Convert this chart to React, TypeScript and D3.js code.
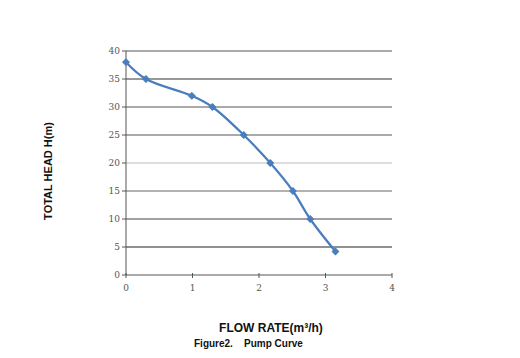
import React from "react";
import * as d3 from "d3";

const flow = [0, 0.3, 0.99, 1.3, 1.77, 2.17, 2.51, 2.77, 3.15];
const head = [38, 35, 32, 30, 25, 20, 15, 10, 4.2];
const xTicks = [0, 1, 2, 3, 4];
const yTicks = [0, 5, 10, 15, 20, 25, 30, 35, 40];
const gridColors: Record<number, string> = {
  5: "#222", 10: "#444", 15: "#666", 20: "#bbb", 25: "#555", 30: "#555", 35: "#333", 40: "#555",
};

export default function App() {
  const W = 520, H = 358;
  const x = d3.scaleLinear().domain([0, 4]).range([126, 392]);
  const y = d3.scaleLinear().domain([0, 40]).range([275, 51]);
  const pts = flow.map((f, i) => [x(f), y(head[i])] as [number, number]);
  const line = d3.line().curve(d3.curveCatmullRom.alpha(0.5))(pts) || "";
  const serif = "'DejaVu Serif', 'Liberation Serif', serif";
  const sans = "'Liberation Sans', Arial, sans-serif";
  const marker = d3.symbol(d3.symbolSquare, 22)() || "";
  return (
    <svg width={W} height={H} style={{ position: "absolute", left: 0, top: 0, background: "#fff" }}>
      <rect width={W} height={H} fill="#fff" />
      {yTicks.filter(t => t > 0).map(t => (
        <line key={t} x1={x(0)} x2={x(4)} y1={y(t)} y2={y(t)} stroke={gridColors[t]} strokeWidth={1} />
      ))}
      {yTicks.map(t => (
        <g key={"y" + t}>
          <line x1={x(0) - 4} x2={x(0)} y1={y(t)} y2={y(t)} stroke="#555" />
          <text x={x(0) - 6} y={y(t) + 3} fontSize={9} fontFamily={serif} fill="#555" textAnchor="end">{t}</text>
        </g>
      ))}
      <line x1={x(0)} x2={x(0)} y1={y(40)} y2={y(0)} stroke="#555" />
      <line x1={x(0)} x2={x(4)} y1={y(0)} y2={y(0)} stroke="#555" />
      {xTicks.map(t => (
        <g key={"x" + t}>
          <line x1={x(t)} x2={x(t)} y1={y(0) - 2} y2={y(0) + 3} stroke="#555" />
          <text x={x(t)} y={y(0) + 16} fontSize={9} fontFamily={serif} fill="#555" textAnchor="middle">{t}</text>
        </g>
      ))}
      <path d={line} fill="none" stroke="#4a7dbd" strokeWidth={2.2} />
      {pts.map((p, i) => (
        <path key={i} d={marker} transform={`translate(${p[0]},${p[1]}) rotate(45)`} fill="#4a7dbd" stroke="#4a7dbd" strokeWidth={1} strokeLinejoin="round" />
      ))}
      <text transform="translate(52,171) rotate(-90)" fontSize={11} fontWeight="bold" fontFamily={sans} textAnchor="middle" fill="#111">TOTAL HEAD H(m)</text>
      <text x={271} y={332} fontSize={12} fontWeight="bold" fontFamily={sans} textAnchor="middle" fill="#111">FLOW RATE(m³/h)</text>
      <text x={194} y={347} fontSize={10} fontWeight="bold" fontFamily={sans} fill="#111" xmlSpace="preserve">Figure2.    Pump Curve</text>
    </svg>
  );
}
